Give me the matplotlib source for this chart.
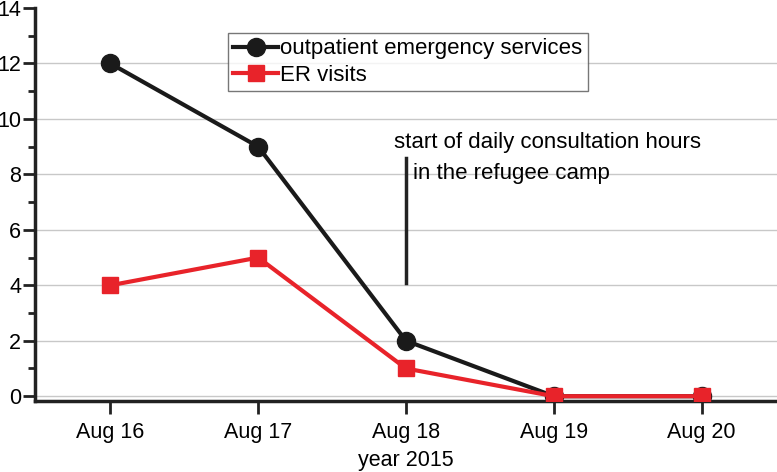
import numpy as np
import matplotlib.pyplot as plt

plt.rcParams['font.family'] = ['Liberation Sans', 'DejaVu Sans']

days = [16, 17, 18, 19, 20]
day_labels = ['Aug 16', 'Aug 17', 'Aug 18', 'Aug 19', 'Aug 20']
outpatient = [12, 9, 2, 0, 0]
er_visits = [4, 5, 1, 0, 0]

fig = plt.figure(figsize=(7.77, 4.72), dpi=100)
ax = fig.add_axes([0.045, 0.150, 0.955, 0.833])

ax.plot(days, outpatient, color='#1a1a1a', lw=3, marker='o', ms=13,
        label='outpatient emergency services', zorder=3)
ax.plot(days, er_visits, color='#e8232a', lw=3, marker='s', ms=11,
        label='ER visits', zorder=4)

ax.set_xlim(15.49, 20.51)
ax.set_ylim(-0.18, 14)
ax.set_yticks(np.arange(0, 15, 2))
ax.set_yticks(np.arange(1, 15, 2), minor=True)
ax.set_xticks(days)
ax.set_xticklabels(day_labels)
ax.tick_params(axis='both', which='major', labelsize=15.5, width=2, length=9, color='#222222')
ax.tick_params(axis='y', which='minor', width=2, length=5, color='#222222')
ax.tick_params(axis='x', pad=6)
ax.tick_params(axis='y', pad=1)
ax.set_xlabel('year 2015', fontsize=15.5, labelpad=5)

for v in np.arange(0, 14, 2):
    ax.axhline(v, color='#c8c8c8', lw=1, zorder=1)

for s in ['top', 'right']:
    ax.spines[s].set_visible(False)
for s in ['left', 'bottom']:
    ax.spines[s].set_linewidth(2.5)
    ax.spines[s].set_color('#222222')

ax.plot([18, 18], [4.1, 8.6], color='#222222', lw=2.5, zorder=3)
ax.text(17.92, 8.95, 'start of daily consultation hours', fontsize=16)
ax.text(18.05, 7.85, 'in the refugee camp', fontsize=16)

leg = ax.legend(loc='upper left', bbox_to_anchor=(0.26, 0.937), fontsize=16,
                frameon=True, fancybox=False, handlelength=2.0, handletextpad=0.1,
                borderpad=0.25, labelspacing=0.25, borderaxespad=0)
leg.get_frame().set_edgecolor('#555555')
leg.get_frame().set_linewidth(1)

plt.savefig('out.png', dpi=100)
